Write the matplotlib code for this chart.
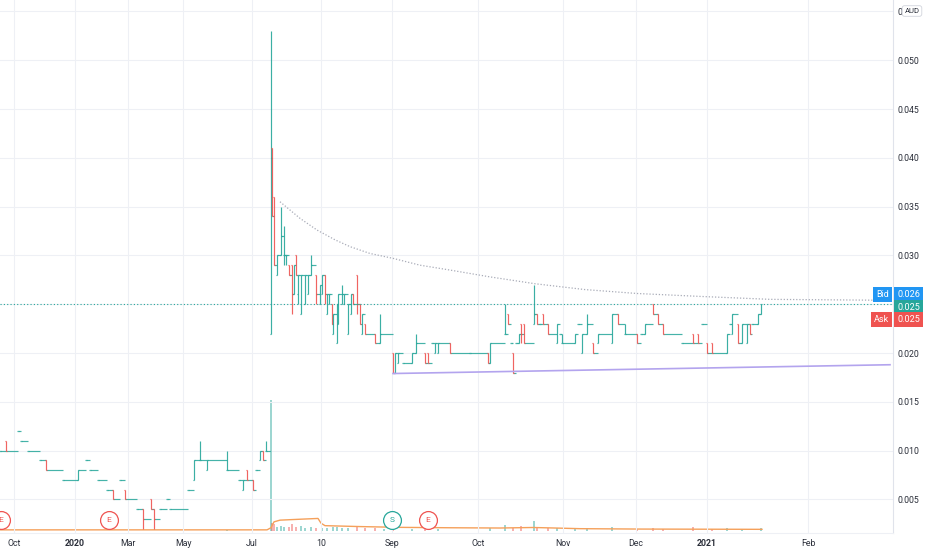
import matplotlib.pyplot as plt
from matplotlib import transforms
from matplotlib.collections import LineCollection

plt.rcParams['font.family'] = ['Roboto', 'DejaVu Sans']

UP = '#26a69a'
DOWN = '#ef5350'

# ---------------- price bars (x = bar index on the chart) ----------------
# before the July 2020 spike
pre_x = [0, 6, 18, 21, 28, 40, 46, 63, 78, 86, 90, 98, 107, 113, 120, 125, 137, 143,
         151, 154, 160, 167, 170, 188, 194, 200, 207, 227, 239, 243, 247, 253, 256,
         260, 263, 266]
pre_open = [.010, .011, .012, .011, .010, .009, .009, .007, .007, .009, .008, .007, .006,
            .006, .007, .006, .004, .004, .005, .004, .004, .005, .004, .006, .007, .009,
            .008, .008, .007, .006, .008, .007, .008, .009, .010, .010]
pre_high = [.010, .011, .012, .011, .010, .009, .009, .007, .008, .009, .008, .007, .006,
            .006, .007, .006, .004, .004, .005, .004, .004, .005, .004, .006, .009, .011,
            .009, .010, .007, .007, .008, .007, .008, .010, .010, .011]
pre_low = [.010, .010, .012, .011, .010, .009, .008, .007, .007, .009, .008, .007, .006,
           .005, .007, .005, .004, .002, .004, .002, .004, .005, .004, .006, .007, .009,
           .008, .008, .007, .006, .007, .006, .008, .009, .009, .010]
pre_close = [.010, .010, .012, .011, .010, .009, .008, .007, .008, .009, .008, .007, .006,
             .005, .007, .005, .004, .003, .004, .003, .004, .005, .004, .006, .009, .009,
             .009, .008, .007, .007, .007, .006, .008, .010, .009, .010]

# from the spike onwards
post_x = [271, 272, 274, 277, 281, 284, 286, 289, 292, 294, 296, 298, 301, 305, 308, 311,
          316, 320, 322, 325, 327, 329, 332, 333, 337, 338, 342, 344, 348, 351, 353, 357,
          360, 362, 365, 375, 380, 393, 395, 398, 403, 412, 416, 425, 428, 432, 435, 438,
          450, 470, 488, 490, 505, 508, 511, 513, 516, 519, 521, 524, 534, 537, 540, 543,
          548, 557, 560, 562, 575, 578, 582, 587, 593, 598, 612, 618, 625, 637, 641, 645,
          653, 658, 663, 682, 693, 698, 702, 707, 712, 727, 730, 732, 738, 742, 747, 750,
          752, 758, 761]
post_open = [.022, .041, .036, .028, .030, .030, .030, .029, .029, .026, .030, .026, .024,
             .025, .026, .028, .028, .025, .026, .028, .024, .025, .025, .022, .021, .023,
             .025, .025, .022, .024, .026, .028, .025, .022, .023, .022, .021, .020, .018,
             .019, .019, .019, .020, .020, .020, .021, .020, .020, .021, .020, .020, .019,
             .022, .024, .021, .020, .021, .021, .023, .023, .023, .024, .023, .024, .023,
             .021, .022, .021, .021, .023, .020, .022, .021, .021, .021, .024, .022, .022,
             .022, .022, .025, .024, .023, .021, .022, .022, .023, .021, .021, .020, .023,
             .022, .023, .021, .021, .023, .023, .023, .024]
post_high = [.053, .041, .036, .030, .035, .033, .030, .029, .029, .029, .030, .028, .028,
             .028, .028, .030, .028, .027, .028, .028, .026, .026, .025, .024, .025, .026,
             .027, .026, .025, .026, .026, .028, .025, .024, .023, .022, .024, .020, .020,
             .020, .019, .020, .022, .020, .020, .021, .021, .021, .021, .020, .020, .021,
             .025, .024, .021, .020, .021, .022, .023, .023, .027, .024, .023, .024, .023,
             .023, .022, .022, .022, .023, .022, .024, .021, .022, .024, .024, .023, .022,
             .022, .023, .025, .024, .023, .021, .022, .022, .023, .021, .021, .022, .023,
             .024, .023, .023, .023, .023, .023, .024, .025]
post_low = [.022, .034, .029, .028, .030, .029, .029, .028, .024, .026, .028, .025, .024,
            .025, .026, .028, .025, .025, .026, .025, .024, .025, .023, .022, .021, .023,
            .025, .025, .022, .024, .025, .024, .023, .022, .022, .021, .021, .018, .018,
            .019, .019, .019, .020, .019, .019, .021, .020, .020, .020, .020, .019, .019,
            .022, .023, .021, .018, .021, .021, .021, .021, .023, .023, .023, .023, .022,
            .021, .022, .021, .021, .023, .020, .022, .020, .021, .021, .023, .022, .021,
            .022, .022, .024, .023, .022, .021, .021, .021, .023, .020, .020, .020, .023,
            .022, .021, .021, .021, .022, .023, .023, .024]
post_close = [.040, .034, .029, .030, .032, .030, .030, .028, .026, .029, .028, .028, .028,
              .028, .028, .029, .026, .027, .028, .026, .026, .026, .023, .024, .025, .026,
              .026, .026, .025, .026, .025, .025, .023, .024, .022, .021, .022, .018, .020,
              .020, .019, .020, .021, .019, .019, .021, .021, .021, .020, .020, .019, .021,
              .022, .023, .021, .018, .021, .022, .022, .021, .024, .023, .023, .023, .022,
              .023, .022, .021, .022, .023, .022, .023, .020, .022, .024, .023, .022, .021,
              .022, .023, .024, .023, .022, .021, .021, .021, .023, .020, .020, .022, .023,
              .024, .021, .023, .023, .022, .023, .024, .025]

# ---------------- volume (relative, spike day = 100) ----------------
vol_x = [227, 271, 272, 274, 277, 281, 284, 289, 292, 296, 301, 305, 311, 316, 322, 327,
         333, 337, 342, 348, 357, 365, 375, 384, 393, 412, 425, 438, 490, 505, 513, 521,
         534, 537, 548, 557, 575, 587, 612, 637, 653, 663, 693, 712, 727, 742, 761]
vol_v = [1.0, 100, 6, 5, 3, 4, 3, 3, 5, 3, 4, 2.5, 3, 2.5, 2, 2, 3, 3, 2, 2, 3, 2, 2, 1.5,
         2, 1.5, 1.5, 1.5, 2, 4.5, 2, 3.5, 7.5, 3, 2, 2, 1.5, 2, 3, 1.5, 2, 1.5, 3, 1.5,
         2.5, 1.5, 2]
vma_x = [0, 267, 271, 274, 280, 300, 318, 321, 325, 360, 400, 450, 500, 533, 555, 580,
         640, 700, 762]
vma_v = [0.9, 0.9, 2.5, 7.0, 8.3, 9.0, 9.6, 6.0, 4.1, 3.4, 2.8, 2.5, 2.3, 2.7, 2.3, 1.8,
         1.5, 1.4, 1.3]

# ---------------- drawings ----------------
curve_x = [280, 300, 317, 335, 350, 370, 393, 420, 450, 490, 535, 585, 637, 700, 770, 890]
curve_p = [0.0355, 0.0338, 0.0326, 0.0316, 0.0309, 0.0302, 0.0297, 0.0290, 0.0285,
           0.0278, 0.0271, 0.0265, 0.0261, 0.0258, 0.0255, 0.0254]
sup_x = [393, 890]
sup_p = [0.0179, 0.0188]
last_price = 0.025
bid, ask = 0.026, 0.025

# events along the time axis
ev_x = [1, 109, 392, 428]
ev_kind = ['E', 'E', 'S', 'E']

# time axis labels
tick_x = [14, 75, 128, 183, 252, 321, 392, 478, 563, 636, 707, 808]
tick_lab = ['Oct', '2020', 'Mar', 'May', 'Jul', '10', 'Sep', 'Oct', 'Nov', 'Dec', '2021', 'Feb']
price_ticks = [0.005, 0.010, 0.015, 0.020, 0.025, 0.030, 0.035, 0.040, 0.045, 0.050, 0.055]
# 0.025 sits under the last-price box and 0.055 under the currency badge
price_lab = ['0.005', '0.010', '0.015', '0.020', '', '0.030', '0.035', '0.040', '0.045',
             '0.050', '0.']

bar_x = pre_x + post_x
bar_o = pre_open + post_open
bar_h = pre_high + post_high
bar_l = pre_low + post_low
bar_c = pre_close + post_close

fig = plt.figure(figsize=(9.32, 5.5), dpi=100)
ax = fig.add_axes([0, 17 / 550, 893 / 932, 533 / 550])
axv = ax.twinx()
ax.set_zorder(2)
ax.patch.set_visible(False)

# ---------------- volume pane ----------------
bar_col = {}
for x, o, c in zip(bar_x, bar_o, bar_c):
    bar_col[x] = UP if c >= o else DOWN
axv.bar(vol_x, vol_v, width=1.3, color=[bar_col.get(x, UP) for x in vol_x], alpha=0.45, lw=0)
axv.plot(vma_x, vma_v, color='#f5a05a', lw=1.0)
axv.set_ylim(-1.5, 405)
axv.axis('off')

# ---------------- OHLC bars ----------------
segs, cols, links = [], [], []
for i in range(len(bar_x)):
    x, o, h, l, c = bar_x[i], bar_o[i], bar_h[i], bar_l[i], bar_c[i]
    col = UP if c >= o else DOWN
    segs += [[(x, l), (x, h)], [(x - 0.8, o), (x, o)], [(x, c), (x + 0.8, c)]]
    cols += [col] * 3
    if i < len(bar_x) - 1:
        links.append([(x, c), (bar_x[i + 1], c)])
ax.add_collection(LineCollection(links, colors=UP, linewidths=0.85, alpha=0.85))
ax.add_collection(LineCollection(segs, colors=cols, linewidths=0.85, alpha=0.9))

# drawings
ax.plot(curve_x, curve_p, color='#a9acb8', lw=0.9, ls=(0, (1, 1.5)))
ax.plot(sup_x, sup_p, color='#b3a4ee', lw=1.2)
ax.axhline(last_price, color=UP, lw=0.8, ls=(0, (1, 2)))

# events
ev_tr = transforms.blended_transform_factory(ax.transData, ax.transAxes)
for x, k in zip(ev_x, ev_kind):
    ec = UP if k == 'S' else DOWN
    ax.scatter([x], [0.0244], s=165, facecolor='white', edgecolor=ec, lw=0.9,
               transform=ev_tr, zorder=5, clip_on=False)
    ax.text(x, 0.0244, k, transform=ev_tr, color=ec, fontsize=6, ha='center',
            va='center', zorder=6)

# ---------------- axes ----------------
ax.set_xlim(0, 893)
ax.set_ylim(0.00156, 0.05617)
ax.yaxis.tick_right()
ax.set_yticks(price_ticks)
ax.set_yticklabels(price_lab)
ax.set_xticks(tick_x)
ax.set_xticklabels(tick_lab)
for t in ax.get_xticklabels():
    if t.get_text() in ('2020', '2021'):
        t.set_fontweight('bold')
ax.tick_params(axis='both', length=0, labelsize=6.3, colors='#2a2e39')
ax.tick_params(axis='y', pad=3)
ax.tick_params(axis='x', pad=4)
ax.grid(True, color='#eef0f5', lw=0.8)
ax.set_axisbelow(True)
for s in ['top', 'left']:
    ax.spines[s].set_visible(False)
ax.spines['right'].set_color('#e0e3eb')
ax.spines['bottom'].set_color('#eef0f5')

# bid / last / ask labels on the price scale
lab_tr = transforms.blended_transform_factory(ax.transAxes, ax.transData)
for txt, val, dy, fc in [('Bid', bid, 0, '#2196f3'), ('Ask', ask, -11, DOWN)]:
    ax.annotate(txt, xy=(1, val), xycoords=lab_tr, xytext=(-3, dy), textcoords='offset points',
                ha='right', va='center', color='white', fontsize=6.5, annotation_clip=False,
                bbox=dict(boxstyle='square,pad=0.3', fc=fc, ec='none'))
for val, dy, fc in [(bid, 0, '#2196f3'), (last_price, -2.2, UP), (ask, -11, DOWN)]:
    ax.annotate('%.3f' % val, xy=(1, val), xycoords=lab_tr, xytext=(3, dy),
                textcoords='offset points', ha='left', va='center', color='white',
                fontsize=6.5, annotation_clip=False, zorder=7,
                bbox=dict(boxstyle='square,pad=0.3', fc=fc, ec='none'))

# currency badge
ax.text(912 / 893, (533 - 11) / 533, 'AUD', transform=ax.transAxes, fontsize=5.5,
        color='#2a2e39', ha='center', va='center', zorder=8,
        bbox=dict(boxstyle='round,pad=0.3', fc='white', ec='#d1d4dc', lw=0.6))

fig.savefig('out.png', dpi=100, facecolor='white')
